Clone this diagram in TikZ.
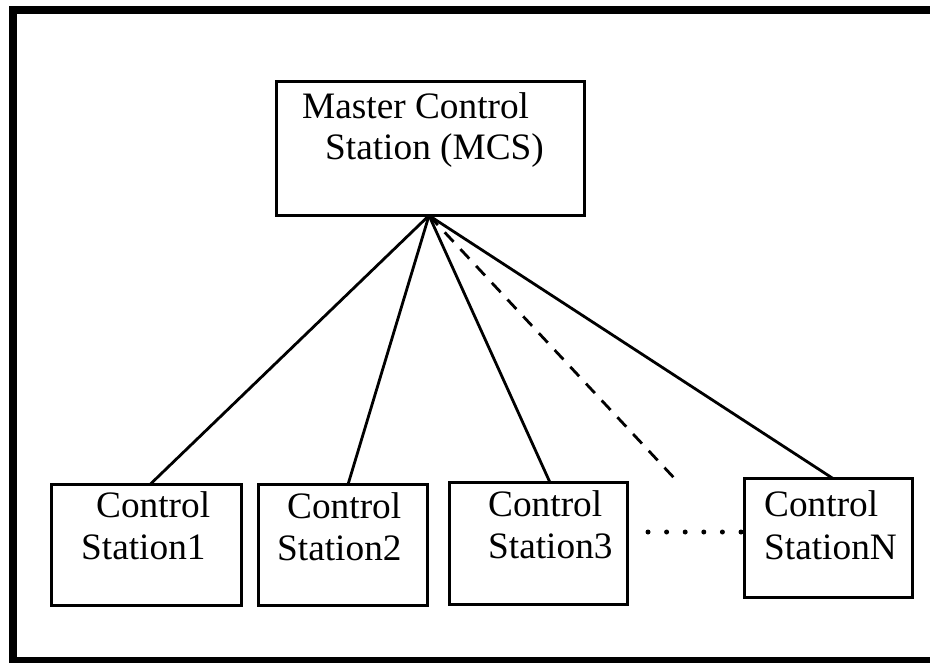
\documentclass[tikz,border=0pt]{standalone}
\usepackage{fontspec}
\setmainfont{Liberation Serif}
\begin{document}
\begin{tikzpicture}[x=1pt,y=-1pt,
  stationbox/.style={draw, line width=3pt, rectangle, inner sep=0pt, outer sep=0pt},
  lbl/.style={anchor=base west, inner sep=0pt, font=\fontsize{37.3}{42}\selectfont},
  link/.style={line width=2.8pt},
  dashlink/.style={line width=2.8pt, dash pattern=on 13pt off 10pt},
  dotlink/.style={line width=5pt, line cap=round, dash pattern=on 0pt off 18.6pt, dash phase=15.1pt}]
\useasboundingbox (0,0) rectangle (930,662);
% outer frame
\draw[line width=8pt] (12.5,10) rectangle (940,661);

% boxes
\node[stationbox, minimum width=308pt, minimum height=134pt] (mcs) at (430.5,148.5) {};
\node[stationbox, minimum width=190pt, minimum height=121pt] (s1) at (146.5,545) {};
\node[stationbox, minimum width=169pt, minimum height=121pt] (s2) at (343,545) {};
\node[stationbox, minimum width=178pt, minimum height=122pt] (s3) at (538.5,543.5) {};
\node[stationbox, minimum width=168pt, minimum height=119pt] (sN) at (828.5,538) {};

% labels
\node[lbl] (mcs1) at (302,118) {Master Control};
\node[lbl] (mcs2) at (325,159) {Station (MCS)};
\node[lbl] (s1a) at (96,517) {Control};
\node[lbl] (s1b) at (81,559) {Station1};
\node[lbl] (s2a) at (287,518) {Control};
\node[lbl] (s2b) at (277,560) {Station2};
\node[lbl] (s3a) at (488,516) {Control};
\node[lbl] (s3b) at (488,558) {Station3};
\node[lbl] (sNa) at (764,516) {Control};
\node[lbl] (sNb) at (764,559) {StationN};

% connectors from the master station
\coordinate (apex) at (mcs.south -| 429,0);
\coordinate (dashend) at (676,480);
\draw[link] (apex) -- (s1.north -| 150,0);
\draw[link] (apex) -- (s2.north -| 348,0);
\draw[link] (apex) -- (s3.north -| 550,0);
\draw[link] (apex) -- (sN.north -| 833,0);
\draw[dashlink] (apex) -- (dashend);

% dotted run between station 3 and station N
\draw[dotlink, shorten >=8pt] (sN.west |- 0,532) -- (s3.east |- 0,532);
\end{tikzpicture}
\end{document}
